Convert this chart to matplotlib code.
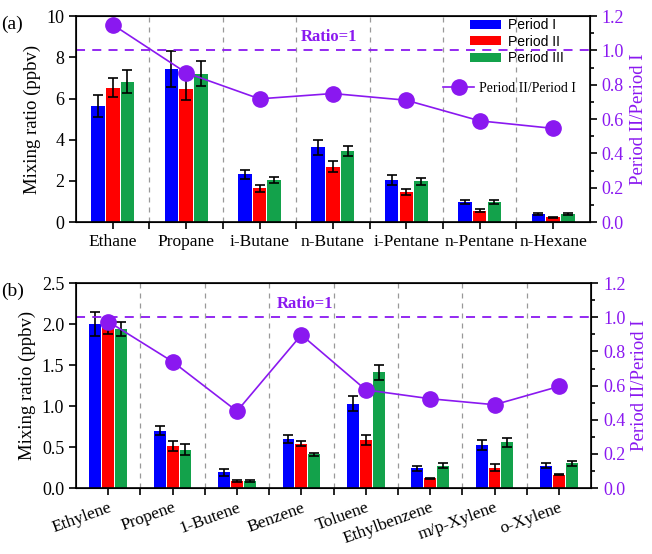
import numpy as np
import matplotlib
matplotlib.use('Agg')
from matplotlib import pyplot as plt
from matplotlib.ticker import MultipleLocator

# panel (a): alkanes
cats_a = ['Ethane', 'Propane', 'i-Butane', 'n-Butane', 'i-Pentane', 'n-Pentane', 'n-Hexane']
p1_a = [5.63, 7.45, 2.32, 3.63, 2.05, 0.97, 0.39]
p2_a = [6.52, 6.48, 1.65, 2.69, 1.48, 0.56, 0.24]
p3_a = [6.81, 7.21, 2.03, 3.47, 1.98, 0.97, 0.39]
e1_a = [0.55, 0.87, 0.22, 0.36, 0.23, 0.10, 0.05]
e2_a = [0.46, 0.55, 0.17, 0.27, 0.14, 0.06, 0.03]
e3_a = [0.55, 0.62, 0.15, 0.24, 0.16, 0.09, 0.04]
ratio_a = [1.15, 0.87, 0.718, 0.749, 0.71, 0.59, 0.546]

# panel (b): alkenes and aromatics
cats_b = ['Ethylene', 'Propene', '1-Butene', 'Benzene', 'Toluene', 'Ethylbenzene', 'm/p-Xylene', 'o-Xylene']
p1_b = [2.00, 0.70, 0.19, 0.60, 1.03, 0.24, 0.525, 0.27]
p2_b = [1.95, 0.51, 0.085, 0.54, 0.586, 0.117, 0.25, 0.165]
p3_b = [1.94, 0.47, 0.09, 0.41, 1.41, 0.27, 0.56, 0.30]
e1_b = [0.15, 0.055, 0.045, 0.05, 0.09, 0.03, 0.06, 0.03]
e2_b = [0.07, 0.06, 0.01, 0.03, 0.06, 0.01, 0.04, 0.01]
e3_b = [0.09, 0.07, 0.01, 0.02, 0.095, 0.03, 0.055, 0.03]
ratio_b = [0.975, 0.74, 0.45, 0.897, 0.575, 0.523, 0.488, 0.595]

BLUE = '#0000FF'
RED = '#FF0000'
GREEN = '#13A24B'
PURPLE = '#8A18F0'

plt.rcParams['font.family'] = ['Liberation Serif', 'DejaVu Serif']


def panel(ax, cats, p1, p2, p3, e1, e2, e3, ratio, ylim, ystep, tag, ratio_x, legend):
    x = np.arange(len(cats))
    w = 0.185
    off = 0.2
    ekw = dict(ecolor='black', elinewidth=1.2, capsize=3.5, capthick=1.2)
    b1 = ax.bar(x - off, p1, w, color=BLUE, yerr=e1, error_kw=ekw, label='Period I', zorder=2)
    b2 = ax.bar(x, p2, w, color=RED, yerr=e2, error_kw=ekw, label='Period II', zorder=2)
    b3 = ax.bar(x + off, p3, w, color=GREEN, yerr=e3, error_kw=ekw, label='Period III', zorder=2)

    seps = np.arange(0.5, len(cats) - 1, 1.0)
    for s in seps:
        ax.axvline(s, color='#999999', lw=0.9, ls=(0, (4, 4)), zorder=1)

    ax.set_xlim(-0.5, len(cats) - 0.5)
    ax.set_ylim(*ylim)
    ax.yaxis.set_major_locator(MultipleLocator(ystep))
    ax.set_xticks(x)
    ax.set_xticks(seps, minor=True)
    ax.tick_params(axis='x', which='both', direction='out', length=5, width=1.2, labelsize=12.5)
    ax.tick_params(axis='y', direction='out', length=5, width=1.2, labelsize=13)
    ax.set_ylabel('Mixing ratio (ppbv)', fontsize=13.5, labelpad=4)
    for sp in ax.spines.values():
        sp.set_linewidth(1.2)

    ax2 = ax.twinx()
    ax2.plot(x, ratio, color=PURPLE, lw=1.2, marker='o', ms=11, label='Period II/Period I')
    ax2.axhline(1.0, color=PURPLE, lw=1.3, ls=(0, (5, 4)))
    ax2.set_ylim(0, 1.2)
    ax2.yaxis.set_major_locator(MultipleLocator(0.2))
    ax2.yaxis.set_minor_locator(MultipleLocator(0.1))
    ax2.tick_params(axis='y', which='major', direction='out', length=5, width=1.2,
                    labelsize=13, labelcolor=PURPLE)
    ax2.tick_params(axis='y', which='minor', direction='out', length=3, width=1.2)
    ax2.set_ylabel('Period II/Period I', fontsize=13.5, color=PURPLE, labelpad=4)
    ax2.text(ratio_x, 1.03, 'Ratio=1', color=PURPLE, fontsize=12,
             fontweight='bold', ha='center', va='bottom')
    ax.text(-0.145, 1.0, tag, transform=ax.transAxes, fontsize=14, ha='left', va='top')

    if legend:
        lg2 = ax2.legend(loc='upper right', bbox_to_anchor=(0.998, 0.74), frameon=False,
                         prop={'size': 10}, handlelength=2.2, handletextpad=0.4)
        ax2.add_artist(lg2)
        ax2.legend(handles=[b1, b2, b3], loc='upper right', bbox_to_anchor=(0.965, 1.03),
                   frameon=False, prop={'family': 'Liberation Sans', 'size': 10},
                   handlelength=2.2, handleheight=0.65, labelspacing=0.18,
                   handletextpad=0.5, borderaxespad=0.2)
    return ax2


fig = plt.figure(figsize=(6.52, 5.54), dpi=100)
ax_a = fig.add_axes([0.1166, 0.599, 0.788, 0.372])
ax_b = fig.add_axes([0.1166, 0.119, 0.790, 0.370])

panel(ax_a, cats_a, p1_a, p2_a, p3_a, e1_a, e2_a, e3_a, ratio_a, (0, 10), 2, '(a)', 2.95, True)
panel(ax_b, cats_b, p1_b, p2_b, p3_b, e1_b, e2_b, e3_b, ratio_b, (0, 2.5), 0.5, '(b)', 3.05, False)

ax_a.set_xticklabels(cats_a)
ax_b.set_xticklabels(cats_b, rotation=20, ha='right', rotation_mode='anchor')

fig.savefig('out.png', dpi=100)
